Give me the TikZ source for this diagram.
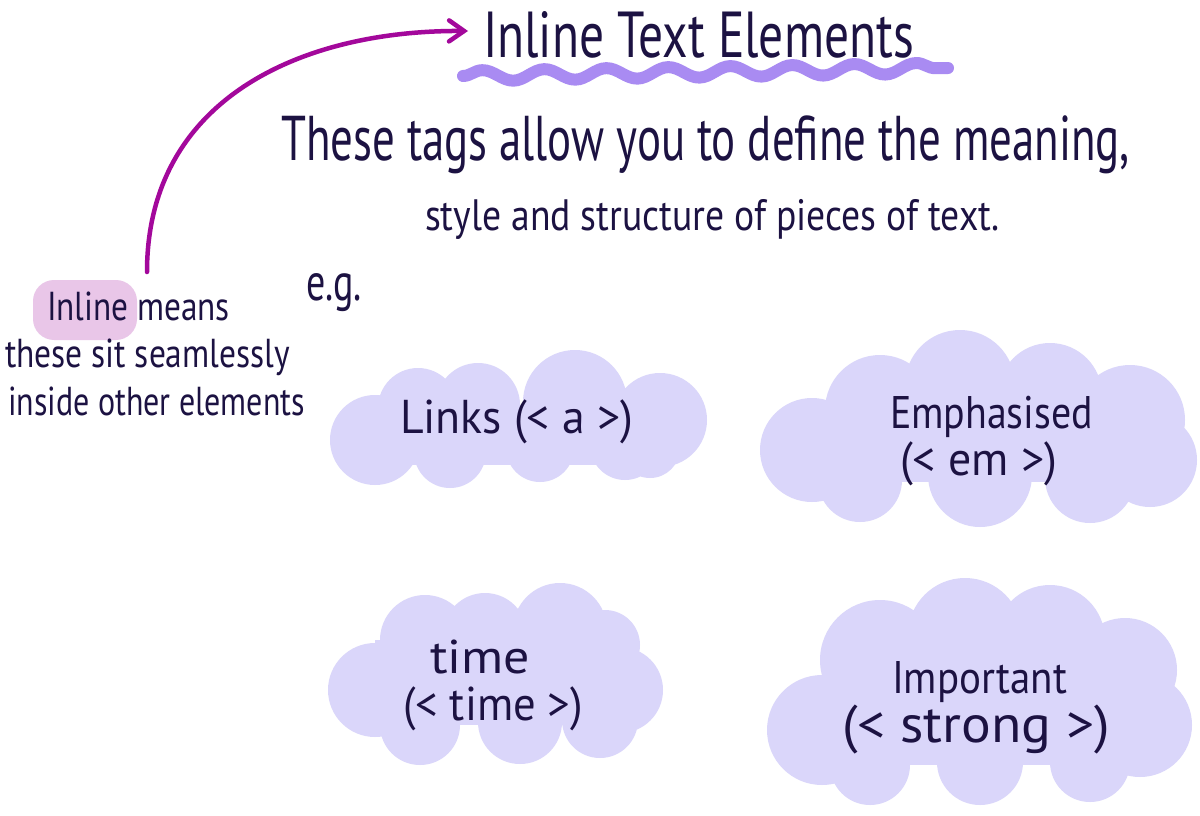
\documentclass[tikz,border=0pt]{standalone}
\usepackage{fontspec}
\setmainfont{PT Sans}
\usepackage{graphicx}
\usetikzlibrary{arrows.meta,decorations.pathmorphing}
\definecolor{ink}{HTML}{1C1242}
\definecolor{cloudc}{HTML}{DAD6FA}
\definecolor{hlc}{HTML}{E9C6E8}
\definecolor{arrowc}{HTML}{A3089B}
\definecolor{wavec}{HTML}{A98BF2}
\newcommand{\fitt}[3]{\resizebox{#1}{\height}{\fontsize{#2}{#2}\selectfont #3}}
\tikzset{
  txt/.style={text=ink, inner sep=0pt, anchor=base},
  cloudfill/.style={fill=cloudc},
  bump/.style={radius={#1*0.02cm}}
}
\begin{document}
\begin{tikzpicture}[x=0.02cm, y=-0.02cm]
\useasboundingbox (0,0) rectangle (1200,815);
\fill[white] (0,0) rectangle (1200,815);

% cloud 1 (Links)
\fill[cloudfill] (375,440) circle[bump=45] (418,408) circle[bump=40] (478,405) circle[bump=42]
  (575,402) circle[bump=52] (660,420) circle[bump=47] (450,452) circle[bump=36]
  (540,448) circle[bump=34] (625,445) circle[bump=35] (650,448) circle[bump=30];
\fill[cloudfill] (375,405) rectangle (650,465);
% cloud 2 (Emphasised)
\fill[cloudfill] (812,450) circle[bump=52] (880,410) circle[bump=55] (960,385) circle[bump=55]
  (1050,395) circle[bump=52] (1130,420) circle[bump=55] (1150,460) circle[bump=47]
  (860,480) circle[bump=42] (980,475) circle[bump=52] (1090,478) circle[bump=45];
\fill[cloudfill] (812,410) rectangle (1150,482);
% cloud 3 (time)
\fill[cloudfill] (375,690) circle[bump=47] (425,640) circle[bump=45] (485,635) circle[bump=42]
  (560,630) circle[bump=47] (605,645) circle[bump=35] (620,690) circle[bump=43]
  (420,725) circle[bump=40] (520,722) circle[bump=42] (600,720) circle[bump=38];
\fill[cloudfill] (375,640) rectangle (620,725);
% cloud 4 (Important)
\fill[cloudfill] (822,730) circle[bump=55] (880,660) circle[bump=60] (965,635) circle[bump=57]
  (1050,640) circle[bump=55] (1125,670) circle[bump=52] (1140,725) circle[bump=52]
  (870,765) circle[bump=40] (980,762) circle[bump=43] (1090,762) circle[bump=40];
\fill[cloudfill] (822,650) rectangle (1140,765);

% highlight behind "Inline"
\fill[hlc, rounded corners=12pt] (33,280) rectangle (137,340);

% texts
\node[txt] (title) at (698.5,57) {\fitt{8.62cm}{37pt}{Inline Text Elements}};
\node[txt] (line1) at (705.5,160) {\fitt{16.98cm}{36pt}{These tags allow you to define the meaning,}};
\node[txt] (line2) at (712.5,230) {\fitt{11.5cm}{25pt}{style and structure of pieces of text.}};
\node[txt] (eg) at (334,300) {\fitt{1.12cm}{30pt}{e.g.}};
\node[txt] (left1) at (138.5,320) {\fitt{3.66cm}{23pt}{Inline means}};
\node[txt] (left2) at (147.5,367) {\fitt{5.7cm}{23pt}{these sit seamlessly}};
\node[txt] (left3) at (156.5,415) {\fitt{5.94cm}{23pt}{inside other elements}};
\node[txt] (links) at (516.5,433) {\fitt{4.66cm}{27pt}{Links (< a >)}};
\node[txt] (emph1) at (991.5,428) {\fitt{4.06cm}{26pt}{Emphasised}};
\node[txt] (emph2) at (978.5,475) {\fitt{3.14cm}{27pt}{(< em >)}};
\node[txt] (time1) at (480,673) {\fitt{2.0cm}{27pt}{time}};
\node[txt] (time2) at (493,720) {\fitt{3.6cm}{27pt}{(< time >)}};
\node[txt] (imp1) at (979.5,693) {\fitt{3.5cm}{26pt}{Important}};
\node[txt] (imp2) at (976,742) {\fitt{5.36cm}{30pt}{(< strong >)}};

% wavy underline
\coordinate (wstart) at (463,76);
\coordinate (wend) at (948,68);
\draw[wavec, line width=0.24cm, line cap=round, decorate,
  decoration={snake, segment length=1.24cm, amplitude=0.11cm}] (wstart) -- (wend);

% arrow
\coordinate (arrstart) at (147,272);
\coordinate (arrend) at (468,31);
\draw[arrowc, line width=0.09cm, line cap=round,
  -{Straight Barb[length=0.3cm,width=0.42cm,line cap=round]}]
  (arrstart) .. controls (147,100) and (300,30) .. (arrend);
\end{tikzpicture}
\end{document}
